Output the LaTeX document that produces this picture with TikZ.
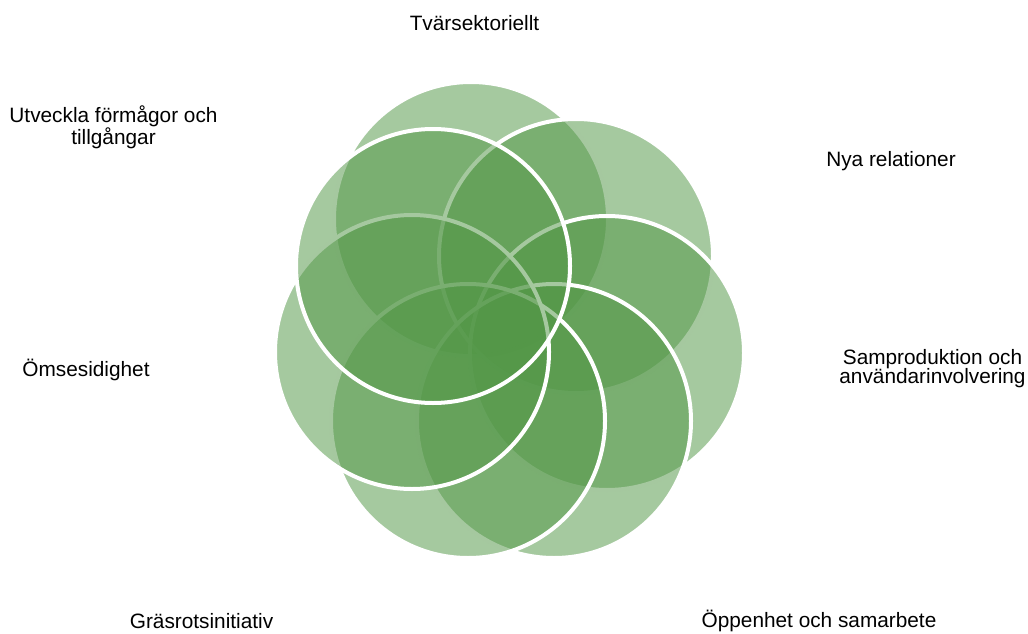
\documentclass[tikz,border=0pt]{standalone}
\usepackage{fontspec}
\setmainfont{Liberation Sans}
\usepackage{tikz}
\usetikzlibrary{positioning}

\definecolor{leaf}{RGB}{83,151,71}

\begin{document}
\begin{tikzpicture}[x=1pt, y=-1pt,
    ring/.style={draw=white, line width=4pt, circle, inner sep=0pt,
        minimum size=274pt, fill=leaf, fill opacity=0.52},
    label/.style={inner sep=0pt, anchor=base, align=center,
        font=\fontsize{20.8}{19.5}\selectfont}]

    \useasboundingbox (0,0) rectangle (1028,634);

    % Circles
    \node[ring] (tvarcirc) at (471,219) {};
    \node[ring] (nyacirc) at (576,256) {};
    \node[ring] (sampcirc) at (607,353) {};
    \node[ring] (oppcirc) at (554,421) {};
    \node[ring] (grascirc) at (468,421) {};
    \node[ring] (omscirc) at (412,352) {};
    \node[ring] (utvcirc) at (433,266) {};

    % Labels
    \node[label] (tvar) at (474.5,31) {Tvärsektoriellt};
    \node[label] (nya) at (891,166.5) {Nya relationer};
    \node[label] (samp) at (932.5,383) {Samproduktion och\\[-0.5pt]användarinvolvering};
    \node[label] (opp) at (819,627.5) {Öppenhet och samarbete};
    \node[label] (gras) at (201.5,628) {Gräsrotsinitiativ};
    \node[label] (oms) at (86,376.5) {Ömsesidighet};
    \node[label] (utv) at (113.5,144.5) {Utveckla förmågor och\\[-0.5pt]tillgångar};

\end{tikzpicture}
\end{document}
